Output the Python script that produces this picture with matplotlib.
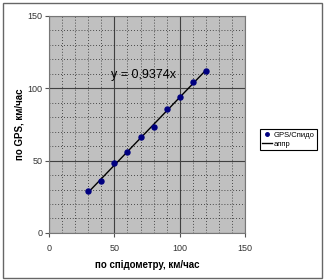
import matplotlib.pyplot as plt
from matplotlib.patches import Rectangle
from matplotlib.ticker import MultipleLocator

plt.rcParams['font.family'] = ['Liberation Sans', 'DejaVu Sans']

speedo = [30, 40, 50, 60, 70, 80, 90, 100, 110, 120]
gps = [29.2, 35.6, 48.2, 55.8, 66.6, 73.1, 85.5, 94.0, 104.3, 112.1]
appr_x = [30, 120]
appr_y = [28.1, 112.5]
eq_text = "y = 0,9374x"

fig = plt.figure(figsize=(3.25, 2.8), dpi=100)
ax = fig.add_axes([0.151, 0.168, 0.603, 0.775])
ax.set_facecolor('#c0c0c0')

ax.plot(speedo, gps, 'o', color='#000080', ms=3.6, label='GPS/Спидо', zorder=3)
ax.plot(appr_x, appr_y, '-', color='black', lw=1, label='аппр', zorder=2)

ax.set_xlim(0, 150)
ax.set_ylim(0, 150)
ax.xaxis.set_major_locator(MultipleLocator(50))
ax.yaxis.set_major_locator(MultipleLocator(50))
ax.xaxis.set_minor_locator(MultipleLocator(10))
ax.yaxis.set_minor_locator(MultipleLocator(10))
ax.grid(which='major', color='#404040', lw=0.8, ls='-')
ax.grid(which='minor', color='#222222', lw=0.6, ls=(0, (1, 2.5)))
ax.set_axisbelow(True)
ax.tick_params(which='major', length=3, labelsize=6.5, labelcolor='#333333', color='#555555')
ax.tick_params(axis='y', which='major', pad=1.5)
ax.tick_params(axis='x', which='major', pad=5)
ax.tick_params(which='minor', length=0)
for s in ax.spines.values():
    s.set_color('#777777')
    s.set_linewidth(0.8)

ax.text(47.5, 109, eq_text, fontsize=9, va='center')

ax.set_xlabel('по спідометру, км/час', fontsize=7, fontweight='bold', labelpad=5)
ax.set_ylabel('по GPS, км/час', fontsize=7, fontweight='bold', labelpad=5)
ax.yaxis.set_label_coords(-0.125, 0.5)

leg = ax.legend(loc='center right', bbox_to_anchor=(1.365, 0.43), fontsize=5.5,
                frameon=True, fancybox=False, edgecolor='black', framealpha=1,
                handlelength=1.3, borderpad=0.3, labelspacing=0.3, handletextpad=0.2,
                borderaxespad=0, markerscale=0.7)
leg.get_frame().set_linewidth(0.8)

fig.patches.append(Rectangle((0.008, 0.006), 0.982, 0.985, transform=fig.transFigure,
                             fill=False, edgecolor='#666666', lw=1))

fig.savefig('out.png', dpi=100)
